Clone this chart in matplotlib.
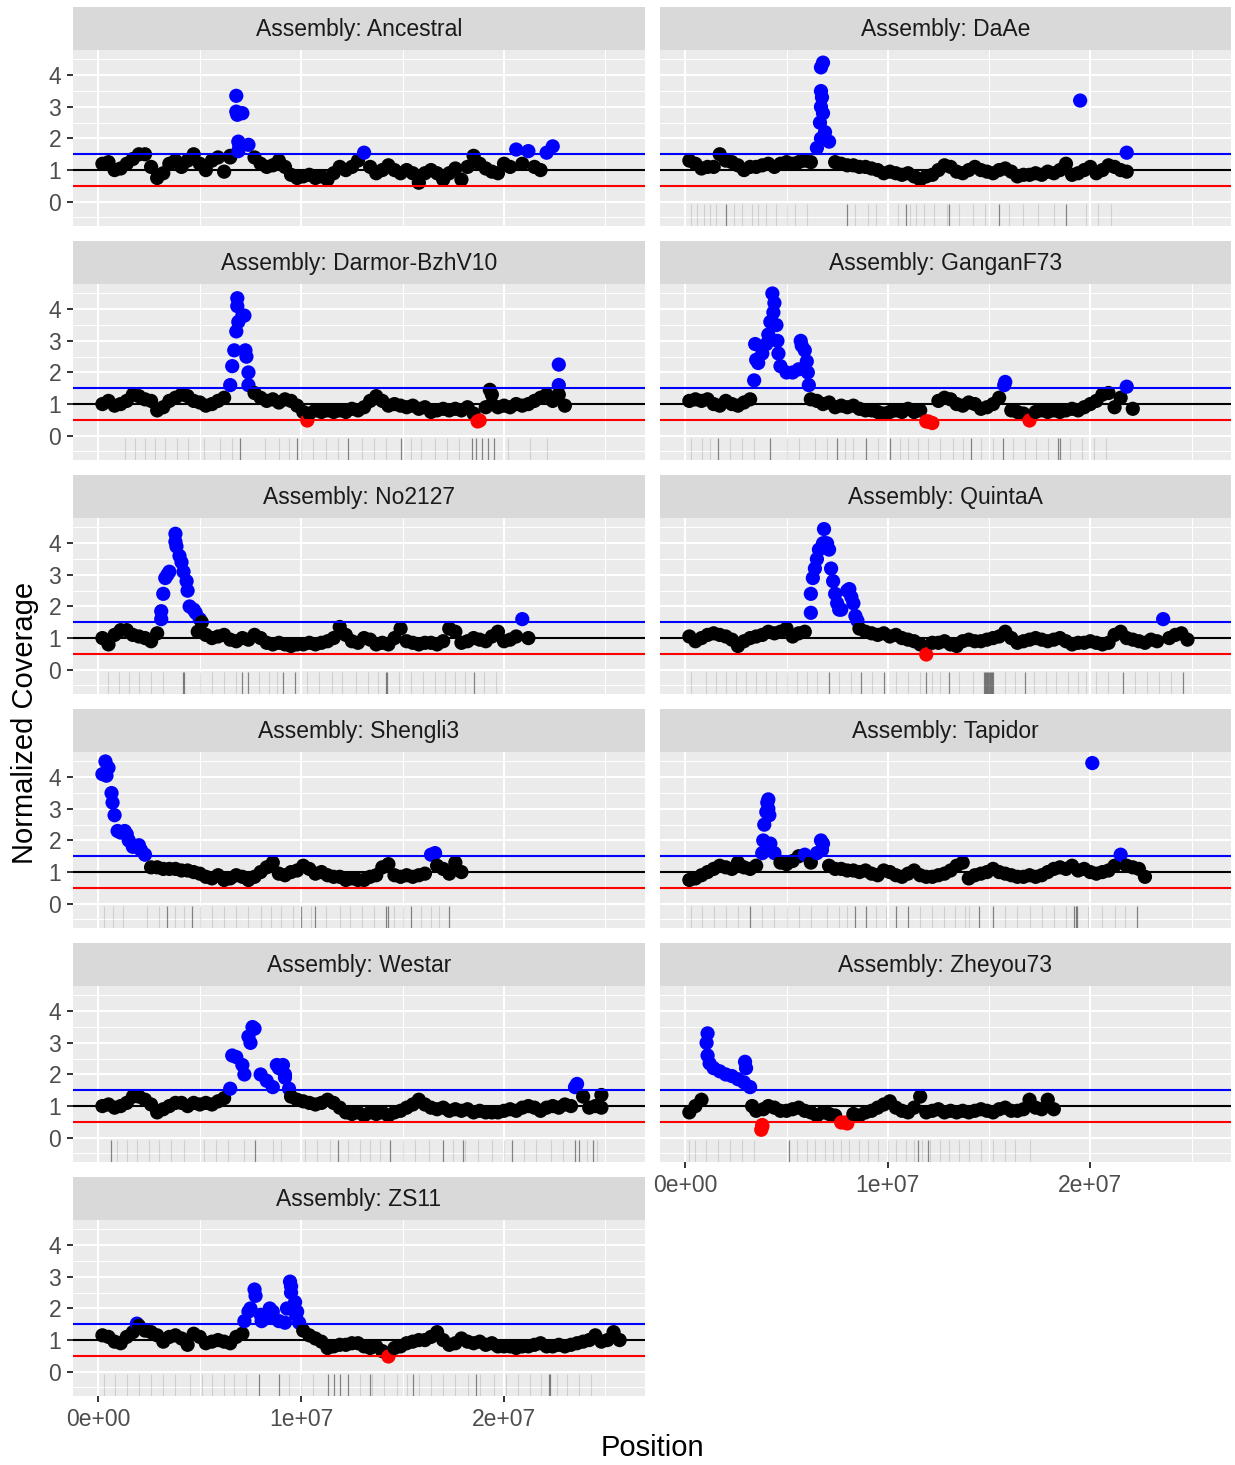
import numpy as np
import matplotlib
matplotlib.use("Agg")
import matplotlib.pyplot as plt
from matplotlib.ticker import FixedLocator, FuncFormatter

plt.rcParams['font.family'] = ['Liberation Sans', 'DejaVu Sans']

# coverage windows: first window at 0.2 Mb, one window every 0.3 Mb
BIN_START = 0.2e6
BIN_STEP = 0.3e6

ancestral_cov = [1.2, 1.25, 1.0, 1.05, 1.2, 1.35, 1.5, 1.5, 1.1, 0.75,
                 0.9, 1.2, 1.3, 1.1, 1.3, 1.5, 1.2, 1.0, 1.3, 1.4,
                 0.95, 1.4, 3.35, 2.8, 1.8, 1.4, 1.2, 1.1, 1.15, 1.3,
                 1.1, 0.85, 0.75, 0.8, 0.85, 0.75, 0.8, 0.7, 0.9, 1.1,
                 1.0, 1.1, 1.3, 1.55, 1.1, 0.9, 1.0, 1.15, 1.0, 0.9,
                 1.0, 0.9, 0.6, 0.9, 1.0, 0.9, 0.7, 0.9, 1.05, 0.7,
                 1.1, 1.45, 1.2, 1.05, 0.95, 0.9, 1.2, 1.1, 1.65, 1.2,
                 1.6, 1.1, 1.0, 1.55, 1.75]
ancestral_extra_pos = [6.8, 6.85, 6.9, 6.95, 6.9, 6.5]
ancestral_extra_cov = [2.85, 2.75, 1.9, 1.75, 1.6, 1.45]
ancestral_rug_light = []
ancestral_rug_dark = []

daae_cov = [1.3, 1.2, 1.05, 1.1, 1.1, 1.5, 1.3, 1.25, 1.15, 1.0,
            1.1, 1.1, 1.15, 1.2, 1.1, 1.2, 1.25, 1.2, 1.25, 1.3,
            1.25, 1.7, 4.4, 1.9, 1.25, 1.2, 1.15, 1.15, 1.1, 1.1,
            1.05, 1.0, 0.9, 0.95, 0.9, 0.85, 0.9, 0.8, 0.7, 0.8,
            0.85, 1.0, 1.15, 1.1, 0.95, 0.9, 1.0, 1.1, 1.0, 0.95,
            0.9, 1.0, 1.05, 0.95, 0.8, 0.85, 0.85, 0.9, 0.85, 0.95,
            0.9, 1.0, 1.2, 0.85, 0.9, 1.0, 1.1, 0.9, 1.0, 1.15,
            1.1, 1.0, 0.95]
daae_extra_pos = [6.7, 6.7, 6.75, 6.7, 6.8, 6.65, 6.9, 6.7, 19.5, 21.8]
daae_extra_cov = [4.25, 3.5, 3.3, 3.0, 2.8, 2.5, 2.2, 2.0, 3.2, 1.55]
daae_rug_light = [0.3, 0.6, 0.9, 1.2, 1.5, 2.4, 2.8, 3.3, 3.6, 4.0, 4.5, 5.0,
                  5.4, 6.0, 8.4, 9.0, 9.4, 10.5, 11.1, 11.4, 11.8, 12.3, 12.9,
                  13.5, 14.2, 14.8, 16.0, 16.7, 17.4, 18.2, 19.8, 20.4, 21.0]
daae_rug_dark = [2.0, 8.0, 10.9, 13.0, 15.5, 18.8]

darmor_cov = [1.0, 1.1, 0.95, 1.0, 1.1, 1.3, 1.25, 1.15, 1.1, 0.8,
              0.9, 1.1, 1.2, 1.3, 1.25, 1.1, 1.05, 0.95, 1.0, 1.1,
              1.2, 1.6, 3.3, 3.8, 2.0, 1.35, 1.2, 1.1, 1.15, 1.05,
              1.15, 1.1, 0.95, 0.75, 0.7, 0.8, 0.75, 0.8, 0.75, 0.8,
              0.75, 0.85, 0.8, 0.9, 1.1, 1.25, 1.1, 0.95, 1.0, 0.95,
              0.9, 0.95, 0.85, 0.9, 0.75, 0.8, 0.85, 0.8, 0.85, 0.8,
              0.9, 0.7, 0.48, 0.9, 1.3, 0.9, 0.95, 0.9, 1.0, 0.95,
              1.0, 1.1, 1.2, 1.3, 1.1, 1.6, 0.95]
darmor_extra_pos = [6.6, 6.7, 6.85, 6.85, 6.9, 7.2, 7.25, 7.3, 7.4,
                    10.3, 18.7, 19.3, 19.4, 22.7, 22.7]
darmor_extra_cov = [2.2, 2.7, 4.35, 4.1, 3.6, 3.8, 2.7, 2.5, 1.6,
                    0.48, 0.45, 1.45, 1.0, 2.25, 1.3]
darmor_rug_light = [1.3, 1.8, 2.3, 2.8, 3.3, 3.9, 4.4, 5.2, 6.0, 6.6, 8.2, 8.9,
                    9.4, 10.0, 10.6, 11.2, 11.8, 13.0, 13.6, 14.2, 15.4, 15.9,
                    16.6, 17.2, 17.8, 20.2, 21.3, 22.1]
darmor_rug_dark = [7.0, 9.8, 12.3, 14.9, 18.4, 18.6, 18.9, 19.2, 19.5]

gangan_cov = [1.1, 1.15, 1.1, 1.15, 1.0, 0.95, 1.1, 1.0, 0.95, 1.05,
              1.15, 2.4, 2.6, 3.2, 4.2, 2.2, 2.0, 2.0, 2.1, 2.7,
              1.15, 1.1, 1.0, 1.05, 0.9, 0.95, 0.9, 0.95, 0.85, 0.8,
              0.8, 0.75, 0.7, 0.75, 0.8, 0.75, 0.85, 0.75, 0.8, 0.45,
              0.4, 1.1, 1.2, 1.15, 1.0, 0.95, 1.05, 1.0, 0.85, 0.9,
              1.0, 1.2, 1.7, 0.8, 0.75, 0.7, 0.48, 0.75, 0.8, 0.75,
              0.8, 0.75, 0.8, 0.85, 0.8, 0.9, 1.0, 1.1, 1.3, 1.35,
              0.9, 1.2, 1.55, 0.85]
gangan_extra_pos = [3.4, 3.45, 3.6, 4.0, 4.2, 4.3, 4.35, 4.5, 4.55, 4.6,
                    5.7, 5.75, 6.0, 6.05, 6.1, 12.0, 15.75]
gangan_extra_cov = [1.75, 2.9, 2.3, 2.9, 3.6, 4.5, 3.9, 3.5, 3.0, 2.6,
                    3.0, 2.85, 2.35, 2.0, 1.6, 0.45, 1.6]
gangan_rug_light = [0.3, 0.8, 1.2, 2.2, 2.8, 3.4, 5.0, 5.6, 6.4, 7.0, 7.9, 8.3,
                    9.5, 10.6, 11.0, 11.5, 12.0, 12.6, 13.2, 13.7, 14.6, 15.2,
                    16.2, 16.8, 17.3, 17.9, 19.0, 19.6, 20.2, 20.8]
gangan_rug_dark = [1.6, 4.2, 7.5, 8.9, 10.1, 14.1, 15.7, 18.4, 18.5]

no2127_cov = [1.0, 0.8, 1.1, 1.25, 1.25, 1.1, 1.05, 1.0, 0.9, 1.15,
              2.4, 3.1, 4.3, 3.4, 2.5, 1.9, 1.6, 1.1, 1.0, 1.05,
              1.1, 0.95, 0.9, 1.0, 0.95, 1.1, 1.0, 0.85, 0.8, 0.85,
              0.8, 0.75, 0.8, 0.8, 0.85, 0.8, 0.85, 0.9, 1.0, 1.35,
              1.1, 0.9, 0.85, 1.0, 0.95, 0.8, 0.85, 0.8, 1.0, 1.3,
              0.9, 0.85, 0.8, 0.85, 0.85, 0.8, 0.9, 1.3, 1.2, 0.85,
              0.9, 1.0, 0.95, 0.9, 1.05, 1.2, 0.9, 0.95, 1.05, 1.6,
              1.0]
no2127_extra_pos = [3.1, 3.1, 3.3, 3.4, 3.8, 3.85, 4.0, 4.2, 4.35, 4.5, 4.8,
                    5.1, 4.9]
no2127_extra_cov = [1.6, 1.85, 2.9, 3.0, 4.05, 3.9, 3.6, 3.1, 2.8, 2.0, 1.8,
                    1.5, 1.2]
no2127_rug_light = [0.5, 1.0, 1.5, 2.0, 2.6, 3.2, 5.0, 5.6, 6.2, 6.8, 7.9, 8.4,
                    8.8, 10.3, 10.9, 11.5, 12.0, 12.7, 13.3, 13.8, 14.8, 15.4,
                    16.0, 16.6, 17.1, 17.6, 18.1, 19.0, 19.6]
no2127_rug_dark = [4.15, 4.2, 7.1, 7.4, 9.1, 9.7, 14.2, 14.25, 18.5]

quinta_cov = [1.05, 0.9, 1.0, 1.1, 1.15, 1.1, 1.05, 0.95, 0.75, 0.9,
              1.0, 1.05, 1.1, 1.2, 1.15, 1.2, 1.3, 1.05, 1.15, 1.2,
              2.4, 3.5, 4.0, 3.8, 2.4, 1.9, 2.5, 2.1, 1.3, 1.2,
              1.15, 1.1, 1.15, 1.05, 1.1, 1.0, 0.95, 0.9, 0.8, 0.48,
              0.85, 0.85, 0.9, 0.8, 0.75, 0.9, 0.95, 0.9, 0.9, 0.95,
              1.0, 1.05, 1.2, 1.0, 0.85, 0.9, 0.95, 1.0, 0.95, 0.9,
              0.95, 1.0, 0.9, 0.8, 0.85, 0.85, 0.9, 0.85, 0.8, 0.85,
              1.1, 1.2, 1.0, 0.95, 0.9, 0.85, 0.95, 0.9, 1.6, 1.0,
              1.1, 1.15, 0.95]
quinta_extra_pos = [6.2, 6.3, 6.4, 6.6, 6.85, 6.9, 7.0, 7.2, 7.3, 7.5, 7.6,
                    8.1, 8.2, 8.4, 8.5]
quinta_extra_cov = [1.8, 2.9, 3.2, 3.8, 4.45, 4.0, 4.0, 3.2, 2.8, 2.1, 1.9,
                    2.55, 2.3, 1.7, 1.55]
quinta_rug_light = [0.3, 1.0, 1.5, 2.0, 2.5, 3.0, 3.5, 4.0, 4.5, 5.0, 5.5, 6.0,
                    6.5, 7.6, 8.2, 9.2, 10.4, 11.0, 11.6, 12.2, 12.6, 13.5,
                    14.2, 15.8, 16.3, 17.2, 17.8, 18.3, 18.9, 19.4, 19.8, 20.3,
                    20.9, 22.2, 22.8, 23.4, 24.0]
quinta_rug_dark = [7.1, 8.7, 9.8, 11.9, 13.0, 14.75, 14.8, 14.85, 14.9, 14.95,
                   15.0, 15.05, 15.1, 15.15, 15.2, 16.8, 21.6, 24.6]

shengli_cov = [4.1, 4.3, 2.8, 2.25, 2.2, 1.8, 1.85, 1.55, 1.15, 1.15,
               1.1, 1.1, 1.1, 1.05, 1.05, 1.0, 0.95, 0.85, 0.8, 0.9,
               0.75, 0.8, 0.9, 0.85, 0.75, 0.85, 1.0, 1.15, 1.3, 0.95,
               0.9, 1.0, 1.05, 1.2, 1.1, 0.95, 1.0, 0.9, 0.85, 0.85,
               0.75, 0.8, 0.75, 0.75, 0.85, 0.9, 1.15, 1.25, 0.9, 0.85,
               0.9, 0.85, 0.9, 0.95, 1.55, 1.2, 1.1, 0.95, 1.3, 1.0]
shengli_extra_pos = [0.35, 0.4, 0.65, 0.7, 0.95, 1.3, 1.5, 2.1, 16.6]
shengli_extra_cov = [4.5, 4.05, 3.5, 3.2, 2.3, 2.3, 2.0, 1.7, 1.6]
shengli_rug_light = [0.3, 0.7, 1.2, 2.4, 3.0, 3.8, 4.2, 5.0, 5.6, 6.2, 6.8, 7.4,
                     8.0, 8.5, 9.0, 9.6, 10.5, 11.2, 11.9, 12.4, 13.0, 13.6,
                     14.6, 15.0, 15.9, 16.4, 16.8]
shengli_rug_dark = [3.4, 4.6, 10.0, 10.7, 14.2, 14.3, 15.4, 17.3]

tapidor_cov = [0.75, 0.8, 0.9, 1.0, 1.1, 1.2, 1.15, 1.1, 1.3, 1.15,
               1.1, 1.2, 1.6, 3.3, 1.6, 1.3, 1.25, 1.35, 1.5, 1.55,
               1.3, 1.6, 1.9, 1.2, 1.1, 1.1, 1.05, 1.05, 1.0, 1.05,
               0.95, 0.9, 1.05, 1.0, 0.9, 0.85, 0.95, 1.05, 0.9, 0.85,
               0.85, 0.9, 0.95, 1.05, 1.2, 1.3, 0.8, 0.9, 0.95, 1.0,
               1.1, 1.0, 0.95, 0.9, 0.85, 0.85, 0.9, 0.85, 0.9, 1.0,
               1.1, 1.15, 1.1, 1.2, 1.05, 1.1, 1.0, 0.95, 1.0, 1.05,
               1.2, 1.55, 1.2, 1.15, 1.1, 0.85]
tapidor_extra_pos = [3.85, 3.9, 4.0, 4.05, 4.1, 4.15, 4.2, 6.7, 6.75, 20.1]
tapidor_extra_cov = [2.0, 2.5, 2.9, 3.2, 3.0, 2.8, 1.9, 2.0, 1.7, 4.45]
tapidor_rug_light = [0.3, 0.8, 1.4, 2.0, 2.6, 3.8, 4.4, 5.0, 5.6, 6.2, 7.0, 7.6,
                     8.0, 9.4, 9.9, 11.6, 12.2, 12.8, 13.3, 13.8, 14.0, 15.8,
                     16.4, 17.0, 17.6, 18.2, 18.8, 19.9, 20.6, 21.2, 21.7]
tapidor_rug_dark = [3.2, 8.4, 8.9, 10.4, 11.0, 14.5, 15.2, 19.2, 19.3, 19.35,
                    22.3]

westar_cov = [1.0, 1.05, 0.95, 1.0, 1.1, 1.3, 1.3, 1.2, 1.05, 0.8,
              0.9, 1.0, 1.1, 1.1, 1.0, 1.1, 1.05, 1.1, 1.05, 1.15,
              1.25, 1.55, 2.55, 2.3, 3.2, 3.45, 2.0, 1.8, 1.6, 2.2,
              2.0, 1.3, 1.2, 1.15, 1.1, 1.05, 1.1, 1.2, 1.1, 0.95,
              0.8, 0.75, 0.8, 0.7, 0.8, 0.75, 0.8, 0.7, 0.8, 0.85,
              0.95, 1.05, 1.2, 1.05, 0.95, 0.9, 0.95, 0.85, 0.9, 0.85,
              0.9, 0.8, 0.85, 0.8, 0.8, 0.8, 0.85, 0.9, 0.85, 0.95,
              1.0, 0.95, 0.85, 0.95, 1.0, 0.95, 1.05, 1.0, 1.7, 1.3,
              0.95, 1.0, 1.35]
westar_extra_pos = [6.6, 7.2, 7.5, 7.6, 8.8, 9.1, 9.2, 9.4, 23.5, 24.8]
westar_extra_cov = [2.6, 2.0, 3.0, 3.5, 2.3, 2.3, 1.9, 1.55, 1.6, 0.95]
westar_rug_light = [0.9, 1.4, 1.9, 2.5, 3.0, 3.6, 4.2, 5.2, 5.8, 6.4, 7.2, 8.6,
                    9.0, 10.2, 10.8, 11.4, 12.3, 12.9, 13.4, 13.9, 15.0, 15.6,
                    16.3, 17.5, 18.1, 18.7, 19.4, 20.0, 21.0, 21.6, 22.3, 22.9,
                    24.1, 24.6]
westar_rug_dark = [0.6, 7.7, 11.8, 14.4, 17.0, 18.0, 20.4, 23.5, 23.7, 24.4]

zheyou_cov = [0.8, 1.0, 1.2, 3.3, 2.2, 2.1, 2.0, 1.95, 1.85, 1.75,
              1.6, 0.85, 0.35, 1.0, 0.95, 0.85, 0.85, 0.9, 0.95, 0.85,
              0.8, 0.7, 0.8, 0.75, 0.7, 0.48, 0.45, 0.75, 0.7, 0.8,
              0.85, 0.95, 1.05, 1.15, 0.95, 0.85, 0.8, 0.95, 1.3, 0.8,
              0.85, 0.9, 0.8, 0.85, 0.8, 0.85, 0.8, 0.85, 0.9, 0.85,
              0.8, 0.9, 0.95, 0.85, 0.85, 0.9, 1.2, 0.95, 0.9, 1.2,
              0.9]
zheyou_extra_pos = [1.05, 1.1, 1.2, 2.95, 3.0, 3.3, 3.75, 3.8, 3.85, 7.9]
zheyou_extra_cov = [3.0, 2.6, 2.35, 2.4, 2.2, 1.0, 0.25, 0.4, 0.9, 0.48]
zheyou_rug_light = [0.2, 0.5, 1.0, 1.6, 2.2, 2.8, 3.4, 5.5, 6.0, 6.4, 6.9, 7.3,
                    7.7, 8.1, 8.6, 9.0, 9.5, 10.0, 10.4, 10.9, 11.3, 11.7, 12.1,
                    12.6, 13.0, 13.5, 14.0, 14.6, 15.2, 15.8, 16.3, 17.0]
zheyou_rug_dark = [5.1, 11.5, 12.0]

zs11_cov = [1.15, 1.1, 0.95, 0.9, 1.1, 1.25, 1.45, 1.3, 1.25, 1.15,
            0.95, 1.1, 1.15, 1.05, 0.85, 1.2, 1.1, 0.9, 0.95, 1.0,
            0.95, 0.9, 1.1, 1.2, 1.9, 2.6, 1.8, 1.7, 1.9, 1.6,
            1.55, 2.7, 1.9, 1.3, 1.15, 1.05, 0.95, 0.75, 0.8, 0.85,
            0.85, 0.9, 0.9, 0.8, 0.75, 0.8, 0.65, 0.48, 0.75, 0.8,
            0.9, 0.95, 1.0, 1.0, 1.1, 1.25, 1.0, 0.85, 0.9, 1.05,
            0.95, 0.9, 0.95, 0.85, 0.9, 0.8, 0.8, 0.8, 0.75, 0.8,
            0.8, 0.85, 0.9, 0.8, 0.8, 0.85, 0.8, 0.85, 0.9, 0.95,
            1.0, 1.15, 0.95, 1.0, 1.25, 1.0]
zs11_extra_pos = [1.9, 7.2, 7.5, 7.75, 8.05, 8.45, 9.3, 9.45, 9.5, 9.7, 9.75,
                  9.9]
zs11_extra_cov = [1.52, 1.6, 2.0, 2.4, 1.6, 2.0, 2.0, 2.85, 2.5, 2.2, 1.8,
                  1.55]
zs11_rug_light = [0.3, 0.8, 1.4, 2.0, 2.6, 3.2, 3.8, 4.5, 5.1, 5.6, 6.2, 6.7,
                  7.3, 9.4, 10.0, 10.6, 12.9, 13.5, 14.1, 14.7, 15.2, 15.8,
                  16.4, 17.0, 17.6, 18.2, 18.8, 19.5, 20.1, 20.7, 21.3, 21.8,
                  22.6, 23.1, 23.7, 24.3]
zs11_rug_dark = [7.9, 8.9, 11.3, 11.6, 11.9, 12.3, 13.4, 15.5, 18.6, 22.2, 22.25]

panels = [
    ("Ancestral", ancestral_cov, ancestral_extra_pos, ancestral_extra_cov, ancestral_rug_light, ancestral_rug_dark),
    ("DaAe", daae_cov, daae_extra_pos, daae_extra_cov, daae_rug_light, daae_rug_dark),
    ("Darmor-BzhV10", darmor_cov, darmor_extra_pos, darmor_extra_cov, darmor_rug_light, darmor_rug_dark),
    ("GanganF73", gangan_cov, gangan_extra_pos, gangan_extra_cov, gangan_rug_light, gangan_rug_dark),
    ("No2127", no2127_cov, no2127_extra_pos, no2127_extra_cov, no2127_rug_light, no2127_rug_dark),
    ("QuintaA", quinta_cov, quinta_extra_pos, quinta_extra_cov, quinta_rug_light, quinta_rug_dark),
    ("Shengli3", shengli_cov, shengli_extra_pos, shengli_extra_cov, shengli_rug_light, shengli_rug_dark),
    ("Tapidor", tapidor_cov, tapidor_extra_pos, tapidor_extra_cov, tapidor_rug_light, tapidor_rug_dark),
    ("Westar", westar_cov, westar_extra_pos, westar_extra_cov, westar_rug_light, westar_rug_dark),
    ("Zheyou73", zheyou_cov, zheyou_extra_pos, zheyou_extra_cov, zheyou_rug_light, zheyou_rug_dark),
    ("ZS11", zs11_cov, zs11_extra_pos, zs11_extra_cov, zs11_rug_light, zs11_rug_dark),
]

HIGH, LOW = 1.5, 0.5

W, H = 1235, 1465
fig = plt.figure(figsize=(W / 100, H / 100), dpi=100)


def px_axes(x0, y0, x1, y1):
    return fig.add_axes([x0 / W, 1 - y1 / H, (x1 - x0) / W, (y1 - y0) / H])


col_x = [(73, 645), (660, 1231)]
sci = FuncFormatter(lambda v, p: "%de+%02d" % (round(v / 1e7), 7) if v != 0 else "0e+00")

for k, (name, cov, ex_pos, ex_cov, rug_l, rug_d) in enumerate(panels):
    row, col = divmod(k, 2)
    x0, x1 = col_x[col]
    top = 7 + 234 * row

    strip = px_axes(x0, top, x1, top + 43)
    strip.set_facecolor("#D9D9D9")
    strip.set_xticks([])
    strip.set_yticks([])
    for s in strip.spines.values():
        s.set_visible(False)
    strip.text(0.5, 0.47, "Assembly: " + name, ha="center", va="center",
               fontsize=16.5, color="#1A1A1A", transform=strip.transAxes)

    ax = px_axes(x0, top + 43, x1, top + 219)
    ax.set_facecolor("#EBEBEB")
    for s in ax.spines.values():
        s.set_visible(False)
    ax.set_xlim(-1.25e6, 26.95e6)
    ax.set_ylim(-0.77, 4.8)
    ax.xaxis.set_major_locator(FixedLocator([0, 1e7, 2e7]))
    ax.xaxis.set_minor_locator(FixedLocator([5e6, 1.5e7, 2.5e7]))
    ax.yaxis.set_major_locator(FixedLocator([0, 1, 2, 3, 4]))
    ax.yaxis.set_minor_locator(FixedLocator([-0.5, 0.5, 1.5, 2.5, 3.5, 4.5]))
    ax.grid(which="major", color="white", lw=1.5)
    ax.grid(which="minor", color="white", lw=0.75)
    ax.set_axisbelow(True)
    ax.tick_params(which="minor", length=0)
    ax.tick_params(which="major", length=4.5, width=1.4, color="#333333",
                   labelcolor="#4D4D4D", labelsize=16.5, pad=4)
    ax.xaxis.set_major_formatter(sci)
    if col != 0:
        ax.tick_params(axis="y", which="both", left=False, labelleft=False)
    if k not in (9, 10):
        ax.tick_params(axis="x", which="both", bottom=False, labelbottom=False)

    # rug of features along the bottom
    trans = ax.get_xaxis_transform()
    if rug_l:
        ax.vlines(np.array(rug_l) * 1e6, 0, 0.125, transform=trans,
                  colors="black", alpha=0.12, lw=0.8, zorder=2)
    if rug_d:
        ax.vlines(np.array(rug_d) * 1e6, 0, 0.125, transform=trans,
                  colors="black", alpha=0.45, lw=0.9, zorder=2)

    pos = BIN_START + BIN_STEP * np.arange(len(cov))
    pos = np.concatenate([pos, np.array(ex_pos) * 1e6])
    val = np.concatenate([np.array(cov, float), np.array(ex_cov, float)])
    order = np.argsort(pos, kind="stable")
    pos, val = pos[order], val[order]
    colors = np.where(val > HIGH, "#0000FF", np.where(val < LOW, "#FF0000", "#000000"))
    ax.scatter(pos, val, s=105, c=colors, linewidths=0, zorder=3)

    ax.axhline(HIGH, color="#0000FF", lw=1.5, zorder=4)
    ax.axhline(1, color="black", lw=1.5, zorder=4)
    ax.axhline(LOW, color="#FF0000", lw=1.5, zorder=4)

fig.text(652 / W, 1 - 1448 / H, "Position", ha="center", va="center",
         fontsize=21, color="black")
fig.text(25 / W, 1 - 723 / H, "Normalized Coverage", ha="center", va="center",
         rotation=90, fontsize=21, color="black")

fig.savefig("out.png", dpi=100, facecolor="white")
